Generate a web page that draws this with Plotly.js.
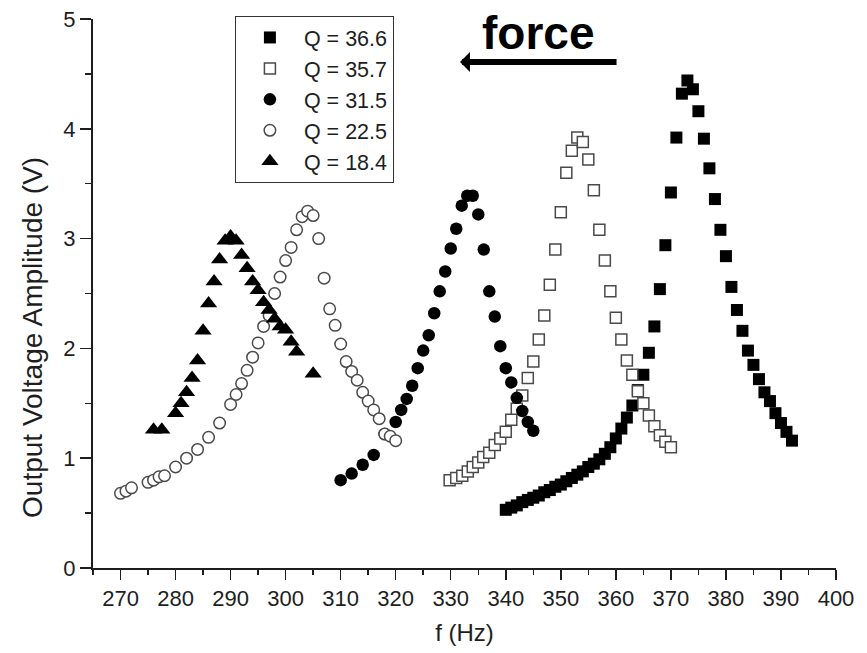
<!DOCTYPE html>
<html>
<head>
<meta charset="utf-8">
<script src="https://cdn.plot.ly/plotly-3.0.1.min.js"></script>
<style>html,body{margin:0;padding:0;background:#fff;}#chart{width:867px;height:653px;}</style>
</head>
<body>
<div id="chart"></div>
<script>
// Q = 36.6 (filled squares)
const fQ366 = [340,341,342,343,344,345,346,347,348,349,350,351,352,353,354,355,356,357,358,359,360,361,362,363,364,365,366,367,368,369,370,371,372,373,374,375,376,377,378,379,380,381,382,383,384,385,386,387,388,389,390,391,392];
const vQ366 = [0.53,0.55,0.57,0.60,0.62,0.64,0.66,0.69,0.71,0.74,0.76,0.79,0.82,0.85,0.88,0.92,0.95,0.99,1.04,1.10,1.18,1.27,1.37,1.48,1.62,1.76,1.96,2.20,2.54,2.94,3.42,3.92,4.32,4.44,4.36,4.16,3.91,3.64,3.36,3.08,2.84,2.56,2.35,2.16,1.98,1.85,1.72,1.60,1.52,1.41,1.32,1.24,1.16];

// Q = 35.7 (open squares)
const fQ357 = [329.8,331,332.1,333.1,334,335,335.9,337,338,339,340,341,342,343,344,345,346,347,348,349,350,351,352,353,354,355,356,357,358,359,360,361,362,363,364,365,366,367,368,369,370];
const vQ357 = [0.80,0.82,0.84,0.88,0.92,0.96,1.01,1.05,1.12,1.18,1.24,1.35,1.45,1.57,1.73,1.88,2.08,2.30,2.58,2.90,3.24,3.60,3.80,3.92,3.88,3.72,3.44,3.08,2.80,2.52,2.28,2.08,1.89,1.76,1.61,1.50,1.39,1.29,1.21,1.15,1.10];

// Q = 31.5 (filled circles)
const fQ315 = [310,312,314,316,318,320,321,322,323,324,325,326,327,328,329,330,331,332,333,334,335,336,337,338,339,340,341,342,343,344,345];
const vQ315 = [0.80,0.86,0.94,1.03,1.22,1.33,1.44,1.54,1.66,1.82,1.98,2.12,2.32,2.52,2.70,2.91,3.09,3.30,3.39,3.39,3.22,2.90,2.52,2.29,2.02,1.82,1.69,1.55,1.43,1.33,1.25];

// Q = 22.5 (open circles)
const fQ225 = [270,271,272,275,276,277,278,280,282,284,286,288,290,291,292,293,294,295,296,297,298,299,300,301,302,303,304,305,306,307,308,309,310,311,312,313,314,315,316,317,318,319,320];
const vQ225 = [0.68,0.70,0.73,0.78,0.80,0.83,0.84,0.92,1.00,1.08,1.19,1.32,1.49,1.58,1.68,1.80,1.92,2.05,2.20,2.30,2.50,2.65,2.80,2.92,3.08,3.20,3.25,3.21,3.00,2.64,2.36,2.21,2.04,1.88,1.79,1.71,1.60,1.52,1.44,1.36,1.22,1.20,1.16];

// Q = 18.4 (filled triangles)
const fQ184 = [276,277.5,280,281,282,283,284,285,286,287,288,289,290,291,292,293,294,295,296,297,298,299,300,301,302,305];
const vQ184 = [1.26,1.26,1.41,1.50,1.60,1.73,1.89,2.16,2.41,2.61,2.81,2.98,3.02,2.98,2.85,2.73,2.61,2.53,2.42,2.35,2.27,2.20,2.17,2.06,1.97,1.77];

const seriesNames = ['Q = 36.6','Q = 35.7','Q = 31.5','Q = 22.5','Q = 18.4'];
const xTicks = [270,280,290,300,310,320,330,340,350,360,370,380,390,400];
const yTicks = [0,1,2,3,4,5];

const FONT = 'Liberation Sans, Arial, Helvetica, sans-serif';
const INK = '#1e1e1e';
const OPEN = '#4a4a4a';

const traces = [
  {x: fQ366, y: vQ366, name: seriesNames[0], type: 'scatter', mode: 'markers',
   marker: {symbol: 'square', size: 12, color: '#000', line: {width: 0}}},
  {x: fQ357, y: vQ357, name: seriesNames[1], type: 'scatter', mode: 'markers',
   marker: {symbol: 'square', size: 11, color: '#fff', line: {width: 1.5, color: OPEN}}},
  {x: fQ315, y: vQ315, name: seriesNames[2], type: 'scatter', mode: 'markers',
   marker: {symbol: 'circle', size: 12.5, color: '#000', line: {width: 0}}},
  {x: fQ225, y: vQ225, name: seriesNames[3], type: 'scatter', mode: 'markers',
   marker: {symbol: 'circle', size: 11.5, color: '#fff', line: {width: 1.5, color: OPEN}}},
  {x: fQ184, y: vQ184, name: seriesNames[4], type: 'scatter', mode: 'markers',
   marker: {symbol: 'triangle-up', size: 15, color: '#000', line: {width: 0}}}
];

const layout = {
  width: 867, height: 653,
  margin: {l: 93, r: 31, t: 19, b: 85},
  paper_bgcolor: '#fff', plot_bgcolor: '#fff',
  font: {family: FONT, color: INK},
  showlegend: true,
  legend: {
    x: 0.191, y: 1.0055, xanchor: 'left', yanchor: 'top',
    bordercolor: '#333', borderwidth: 1, bgcolor: '#fff',
    font: {family: FONT, size: 21.5, color: INK},
    itemwidth: 58, tracegroupgap: 0
  },
  xaxis: {
    range: [265, 400], showgrid: false, zeroline: false,
    showline: true, linecolor: INK, linewidth: 2,
    ticks: 'outside', ticklen: 10, tickwidth: 1.5, tickcolor: INK,
    tickmode: 'array', tickvals: xTicks, ticktext: xTicks.map(String),
    tickfont: {family: FONT, size: 22, color: INK},
    minor: {dtick: 5, tick0: 265, ticks: 'outside', ticklen: 5, tickwidth: 1.5, tickcolor: INK, showgrid: false},
    title: {text: 'f (Hz)', font: {family: FONT, size: 24, color: INK}, standoff: 14},
    fixedrange: true
  },
  yaxis: {
    range: [0, 5], showgrid: false, zeroline: false,
    showline: true, linecolor: INK, linewidth: 2,
    ticks: 'outside', ticklen: 11, tickwidth: 1.5, tickcolor: INK,
    tickmode: 'array', tickvals: yTicks, ticktext: yTicks.map(String),
    tickfont: {family: FONT, size: 22, color: INK},
    minor: {dtick: 0.5, ticks: 'outside', ticklen: 6, tickwidth: 1.5, tickcolor: INK, showgrid: false},
    title: {text: ''},
    fixedrange: true
  },
  annotations: [
    {xref: 'paper', yref: 'paper', x: -0.0808, y: 0.4208, xanchor: 'center', yanchor: 'middle',
     textangle: -90, text: 'Output Voltage Amplitude (V)', showarrow: false,
     font: {family: FONT, size: 28, color: INK}},
    {xref: 'paper', yref: 'paper', x: 0.599, y: 0.9745, xanchor: 'center', yanchor: 'middle',
     text: '<b>force</b>', showarrow: false, font: {family: FONT, size: 46, color: '#000'}},
    {xref: 'paper', yref: 'paper', x: 0.494, y: 0.9217, text: '', showarrow: true,
     axref: 'pixel', ayref: 'pixel', ax: 158, ay: 0,
     arrowhead: 1, arrowsize: 0.55, arrowwidth: 6, arrowcolor: '#000', standoff: 0}
  ]
};

Plotly.newPlot('chart', traces, layout, {displayModeBar: false, staticPlot: true});
</script>
</body>
</html>
